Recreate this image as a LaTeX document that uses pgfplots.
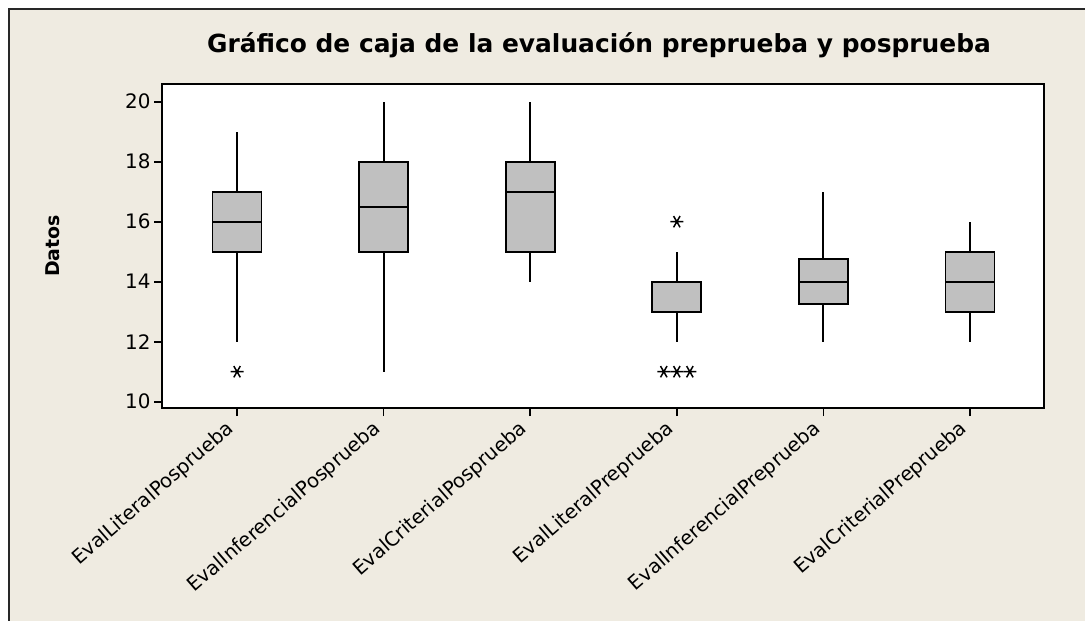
\documentclass[border=0pt]{standalone}
\usepackage{pgfplots}
\pgfplotsset{compat=1.18}
\usepackage{fontspec}
\setmainfont{DejaVu Sans}
\definecolor{bgbeige}{RGB}{239,235,225}
\definecolor{boxgray}{RGB}{192,192,192}
\definecolor{framegray}{RGB}{40,40,40}
\begin{document}
\begin{tikzpicture}[x=1bp,y=1bp]
\useasboundingbox (0,0) rectangle (1085,-621);
\fill[white] (0,0) rectangle (1085,-621);
\fill[bgbeige] (9,-9) rectangle (1085,-621);
\draw[line width=2bp, framegray] (9,-625) -- (9,-9) -- (1090,-9);
\begin{axis}[
  at={(162bp,-408bp)}, anchor=south west,
  scale only axis, width=882bp, height=324bp,
  xmin=-0.512, xmax=5.505, ymin=9.79, ymax=20.59,
  axis background/.style={fill=white},
  axis line style={line width=1.7bp},
  tick align=outside, xtick pos=bottom, ytick pos=left,
  major tick length=8bp,
  tick style={line width=1.7bp, black},
  xtick={0,1,2,3,4,5},
  xticklabels={EvalLiteralPosprueba, EvalInferencialPosprueba, EvalCriterialPosprueba, EvalLiteralPreprueba, EvalInferencialPreprueba, EvalCriterialPreprueba},
  ytick={10,12,14,16,18,20},
  yticklabel style={font=\fontsize{20}{22}\selectfont},
  /pgf/number format/assume math mode=true,
  xticklabel style={font=\fontsize{19.7}{22}\selectfont, rotate=41, anchor=east, inner sep=1bp, xshift=-10bp, yshift=-4bp},
  clip=false,
  whisk/.style={black, line width=2bp},
  boxst/.style={fill=boxgray, draw=black, line width=1.8bp, line join=miter},
  med/.style={black, line width=1.8bp},
]
% box 1: EvalLiteralPosprueba
\addplot[whisk] coordinates {(0,12) (0,19)};
\addplot[boxst] coordinates {(-0.167,15) (0.167,15) (0.167,17) (-0.167,17)} -- cycle;
\addplot[med] coordinates {(-0.167,16) (0.167,16)};
% box 2: EvalInferencialPosprueba
\addplot[whisk] coordinates {(1,11) (1,20)};
\addplot[boxst] coordinates {(0.833,15) (1.167,15) (1.167,18) (0.833,18)} -- cycle;
\addplot[med] coordinates {(0.833,16.5) (1.167,16.5)};
% box 3: EvalCriterialPosprueba
\addplot[whisk] coordinates {(2,14) (2,20)};
\addplot[boxst] coordinates {(1.833,15) (2.167,15) (2.167,18) (1.833,18)} -- cycle;
\addplot[med] coordinates {(1.833,17) (2.167,17)};
% box 4: EvalLiteralPreprueba
\addplot[whisk] coordinates {(3,12) (3,15)};
\addplot[boxst] coordinates {(2.833,13) (3.167,13) (3.167,14) (2.833,14)} -- cycle;
\addplot[med] coordinates {(2.833,14) (3.167,14)};
% box 5: EvalInferencialPreprueba
\addplot[whisk] coordinates {(4,12) (4,17)};
\addplot[boxst] coordinates {(3.833,13.25) (4.167,13.25) (4.167,14.75) (3.833,14.75)} -- cycle;
\addplot[med] coordinates {(3.833,14) (4.167,14)};
% box 6: EvalCriterialPreprueba
\addplot[whisk] coordinates {(5,12) (5,16)};
\addplot[boxst] coordinates {(4.833,13) (5.167,13) (5.167,15) (4.833,15)} -- cycle;
\addplot[med] coordinates {(4.833,14) (5.167,14)};
% outliers
\addplot[only marks, mark=asterisk, mark size=6.5bp, mark options={rotate=90, line width=1.5bp, black}] coordinates {(0,11) (2.911,11) (3,11) (3.089,11) (3,16)};
\end{axis}
\node[font=\fontsize{25}{28}\selectfont\bfseries] at (599,-45) {Gráfico de caja de la evaluación preprueba y posprueba};
\node[rotate=90, font=\fontsize{19}{21}\selectfont\bfseries] at (53,-246) {Datos};
\end{tikzpicture}
\end{document}
